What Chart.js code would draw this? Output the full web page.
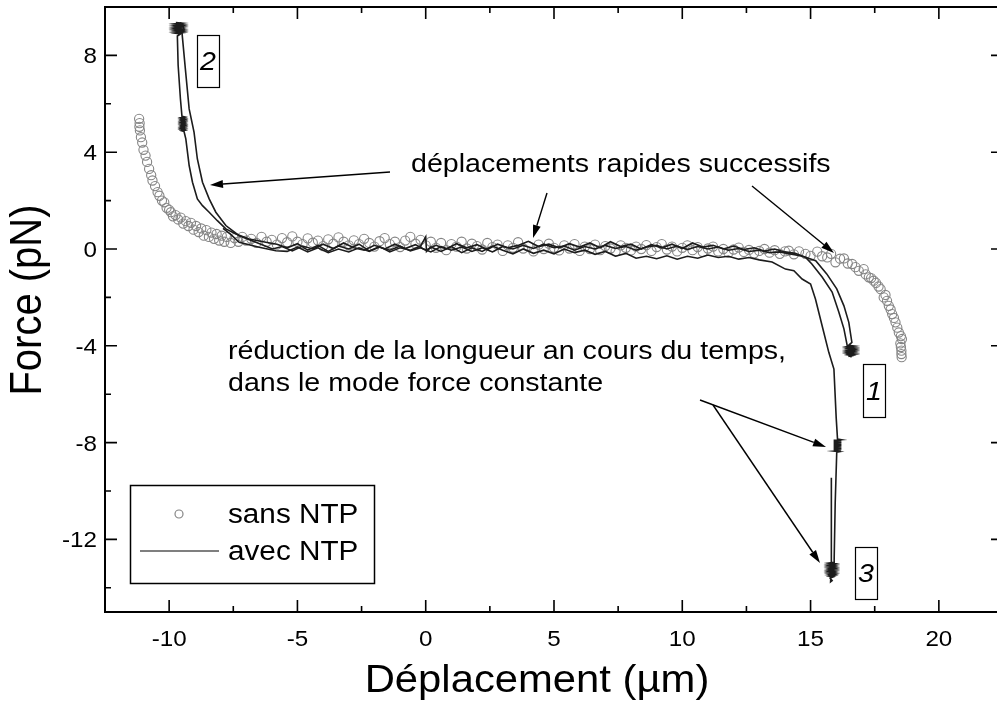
<!DOCTYPE html>
<html>
<head>
<meta charset="utf-8">
<script src="https://cdn.jsdelivr.net/npm/chart.js@4.4.1/dist/chart.umd.min.js"></script>
<style>
  html, body { margin: 0; padding: 0; background: #fff; overflow: hidden; }
  #wrap { width: 1010px; height: 702px; }
</style>
</head>
<body>
<div id="wrap"><canvas id="forceChart" width="1010" height="702"></canvas></div>
<script>
// axes
const xMin = -12.5, xMax = 22.5;
const yMin = -15, yMax = 10;
const xTickLabels = [-10, -5, 0, 5, 10, 15, 20];
const yTickLabels = [8, 4, 0, -4, -8, -12];

// sans NTP (circles)
const sansNTP = [
  [-11.17,5.38],[-11.15,5.2],[-11.16,5.05],[-11.14,4.9],[-11.1,4.62],[-11.05,4.4],[-11.0,4.1],[-10.92,3.86],
  [-10.86,3.6],[-10.78,3.31],[-10.7,3.05],[-10.65,2.83],[-10.55,2.6],[-10.45,2.35],[-10.38,2.2],[-10.28,2.0],
  [-10.19,1.93],[-10.1,1.7],[-10.0,1.62],[-9.93,1.52],[-9.85,1.35],[-9.75,1.4],[-9.65,1.22],[-9.55,1.3],
  [-9.45,1.05],[-9.35,1.15],[-9.25,0.95],[-9.15,1.08],[-9.05,0.8],[-8.95,0.95],[-8.85,0.7],[-8.75,0.85],
  [-8.65,0.55],[-8.55,0.78],[-8.45,0.5],[-8.35,0.68],[-8.25,0.42],[-8.15,0.62],[-8.05,0.35],[-7.95,0.55],
  [-7.85,0.3],[-7.75,0.5],[-7.6,0.25],[-7.45,0.45],[-7.3,0.3],[-7.15,0.5],[-7.0,0.35],
  [-6.8,0.42],[-6.6,0.25],[-6.4,0.5],[-6.2,0.3],[-6.0,0.38],[-5.8,0.18],[-5.6,0.45],[-5.4,0.28],[-5.2,0.52],
  [-5.0,0.3],[-4.8,0.2],[-4.6,0.44],[-4.4,0.26],[-4.2,0.35],[-4.0,0.12],[-3.8,0.4],[-3.6,0.22],[-3.4,0.48],
  [-3.2,0.3],[-3.0,0.15],[-2.8,0.36],[-2.6,0.2],[-2.4,0.42],[-2.2,0.25],[-2.0,0.1],[-1.8,0.32],[-1.6,0.45],
  [-1.4,0.2],[-1.2,0.3],[-1.0,0.08],[-0.8,0.35],[-0.6,0.5],[-0.4,0.22],[-0.2,0.38],[0.0,0.15],[0.2,0.3],
  [0.4,0.05],[0.6,0.25],[0.8,-0.05],[1.0,0.2],[1.2,0.1],[1.4,0.3],[1.6,0.02],[1.8,0.22],[2.0,0.12],[2.2,-0.02],
  [2.4,0.25],[2.6,0.08],[2.8,0.18],[3.0,-0.08],[3.2,0.15],[3.4,0.05],[3.6,0.28],[3.8,0.02],[4.0,0.12],[4.2,-0.1],
  [4.4,0.18],[4.6,0.0],[4.8,0.22],[5.0,0.05],[5.2,-0.06],[5.4,0.15],[5.6,0.02],[5.8,0.2],[6.0,-0.08],[6.2,0.1],
  [6.4,0.0],[6.6,0.18],[6.8,-0.05],[7.0,0.12],[7.2,0.02],[7.4,-0.1],[7.6,0.15],[7.8,0.05],[8.0,-0.06],[8.2,0.1],
  [8.4,0.0],[8.6,0.16],[8.8,-0.08],[9.0,0.08],[9.2,0.2],[9.4,-0.02],[9.6,0.1],[9.8,-0.1],[10.0,0.05],[10.2,0.15],
  [10.4,-0.05],[10.6,0.08],[10.8,-0.12],[11.0,0.02],[11.2,0.1],[11.4,-0.1],[11.6,0.0],[11.8,-0.15],[12.0,-0.02],
  [12.2,0.06],[12.4,-0.12],[12.6,-0.04],[12.8,-0.18],[13.0,-0.08],[13.2,0.0],[13.4,-0.15],[13.6,-0.05],[13.8,-0.2],
  [14.0,-0.1],[14.15,-0.07],[14.35,-0.22],[14.55,-0.1],[14.8,-0.2],[15.0,-0.28],[15.26,-0.11],[15.45,-0.3],
  [15.65,-0.35],[15.8,-0.2],[15.97,-0.55],[16.15,-0.4],[16.3,-0.39],[16.45,-0.6],[16.62,-0.62],[16.75,-0.75],
  [16.88,-0.9],[17.07,-0.83],[17.15,-1.05],[17.27,-1.17],[17.36,-1.2],[17.46,-1.31],[17.55,-1.4],[17.65,-1.55],
  [17.73,-1.66],[17.85,-2.0],[17.92,-1.9],[17.98,-2.14],[18.05,-2.35],[18.12,-2.5],[18.18,-2.69],[18.25,-2.85],
  [18.31,-3.03],[18.38,-3.25],[18.44,-3.45],[18.52,-3.6],[18.56,-3.72],[18.5,-3.9],[18.52,-4.05],[18.54,-4.2],
  [18.54,-4.34],[18.55,-4.47]
];

// avec NTP (lines), three traces; the dense zig-zags are the clamped plateaus
const avecA = [
  [-9.74,9.36],[-9.52,9.335],[-9.74,9.31],[-9.52,9.285],[-9.74,9.26],[-9.52,9.235],[-9.74,9.21],[-9.52,9.185],
  [-9.74,9.16],[-9.52,9.135],[-9.74,9.11],[-9.52,9.085],[-9.74,9.06],[-9.52,9.035],[-9.74,9.01],[-9.52,8.985],
  [-9.74,8.96],[-9.52,8.935],[-9.72,8.91],[-9.56,8.885],[-9.68,8.8],
  [-9.65,7.6],[-9.56,6.2],[-9.5,5.48],[-9.4,5.455],[-9.52,5.43],[-9.4,5.405],[-9.52,5.38],[-9.4,5.355],[-9.52,5.33],
  [-9.4,5.305],[-9.52,5.28],[-9.4,5.255],[-9.52,5.23],[-9.4,5.205],[-9.52,5.18],[-9.4,5.155],[-9.52,5.13],
  [-9.4,5.105],[-9.52,5.08],[-9.4,5.055],[-9.52,5.03],[-9.4,5.005],[-9.52,4.98],[-9.4,4.955],[-9.52,4.93],
  [-9.4,4.905],[-9.5,4.88],[-9.42,4.855],
  [-9.35,4.55],[-9.22,3.45],[-9.09,2.76],[-8.9,2.07],[-8.7,1.79],[-8.44,1.52],[-8.12,1.17],[-7.79,0.83],[-7.4,0.62],
  [-6.88,0.41],[-6.23,0.28],[-5.8,0.2],[-5.4,0.05],[-5.0,0.22],[-4.6,-0.05],[-4.2,0.15],[-3.8,-0.1],[-3.4,0.12],
  [-3.0,0.0],[-2.6,0.2],[-2.2,-0.08],[-1.8,0.1],[-1.4,-0.12],[-1.0,0.05],[-0.6,-0.05],[-0.2,0.12],[0.0,0.5],
  [0.03,-0.1],[0.2,0.08],[0.6,-0.1],[1.0,0.1],[1.4,-0.15],[1.8,0.05],[2.2,-0.1],[2.6,0.12],[3.0,-0.05],[3.4,-0.2],
  [3.8,0.0],[4.2,-0.18],[4.6,-0.05],[5.0,-0.2],[5.4,0.0],[5.8,-0.15],[6.2,-0.05],[6.6,-0.22],[7.0,-0.1],[7.4,-0.3],
  [7.8,-0.18],[8.2,-0.38],[8.6,-0.3],[9.0,-0.4],[9.4,-0.28],[9.8,-0.42],[10.2,-0.3],[10.6,-0.38],[11.0,-0.25],
  [11.4,-0.35],[11.8,-0.3],[12.2,-0.42],[12.6,-0.35],[13.0,-0.45],[13.5,-0.54],[14.02,-0.83],[14.35,-0.9],
  [14.67,-1.24],[15.0,-1.45],[15.19,-2.07],[15.45,-3.17],[15.71,-4.27],[15.91,-4.96],[16.0,-7.0],[16.05,-7.85],
  [16.2,-7.88],[15.9,-7.905],[16.2,-7.93],[15.9,-7.955],[16.2,-7.98],[15.9,-8.005],[16.2,-8.03],[15.9,-8.055],
  [16.2,-8.08],[15.9,-8.105],[16.2,-8.13],[15.9,-8.155],[16.2,-8.18],[15.9,-8.205],[16.2,-8.23],[15.9,-8.255],
  [16.2,-8.28],[15.9,-8.305],[16.18,-8.33],[15.92,-8.355],[16.12,-8.38],[16.02,-8.4],
  [15.96,-10.5],[15.92,-12.8],
  [15.92,-12.95],[15.74,-12.975],[15.92,-13.0],[15.74,-13.025],[15.92,-13.05],[15.74,-13.075],[15.92,-13.1],
  [15.74,-13.125],[15.92,-13.15],[15.74,-13.175],[15.92,-13.2],[15.74,-13.225],[15.92,-13.25],[15.74,-13.275],
  [15.92,-13.3],[15.74,-13.325],[15.92,-13.35],[15.74,-13.375],[15.92,-13.4],[15.74,-13.425],[15.9,-13.45],
  [15.74,-13.475],[15.9,-13.5],[15.76,-13.525],[15.88,-13.55],[15.76,-13.6],[15.84,-13.7],[15.78,-13.75],
  [15.8,-13.2],[15.8,-11.5],[15.82,-9.45]
];
const avecB = [
  [-9.48,9.3],[-9.42,9.05],[-9.5,8.95],[-9.38,7.58],[-9.22,5.79],[-9.03,4.83],[-8.9,3.72],[-8.7,2.76],[-8.44,2.07],
  [-8.18,1.52],[-7.79,0.97],[-7.27,0.55],[-6.62,0.28],[-5.97,0.0],[-5.6,0.1],[-5.2,-0.08],[-4.8,0.12],[-4.4,0.0],
  [-4.0,0.2],[-3.6,0.02],[-3.2,0.25],[-2.8,0.05],[-2.4,-0.05],[-2.0,0.15],[-1.6,0.0],[-1.2,0.2],[-0.8,0.02],
  [-0.4,0.18],[0.0,-0.05],[0.4,0.15],[0.8,0.0],[1.2,0.22],[1.6,0.05],[2.0,0.18],[2.4,-0.02],[2.8,0.2],[3.2,0.05],
  [3.6,0.15],[4.0,0.32],[4.4,0.1],[4.8,0.2],[5.2,0.05],[5.6,0.22],[6.0,0.08],[6.4,0.25],[6.8,0.05],[7.2,0.3],
  [7.6,0.1],[8.0,0.2],[8.4,0.0],[8.8,0.18],[9.2,0.05],[9.6,0.2],[10.0,0.02],[10.4,0.25],[10.8,0.08],[11.2,0.15],
  [11.6,0.0],[12.0,0.12],[12.4,-0.02],[12.8,0.05],[13.2,-0.08],[13.6,0.0],[14.0,-0.12],[14.4,-0.18],[14.8,-0.34],
  [15.2,-0.48],[15.63,-1.03],[16.02,-1.65],[16.3,-2.35],[16.49,-3.03],[16.61,-3.86],
  [16.48,-3.98],[16.68,-4.005],[16.48,-4.03],[16.68,-4.055],[16.48,-4.08],[16.68,-4.105],[16.48,-4.13],
  [16.68,-4.155],[16.48,-4.18],[16.68,-4.205],[16.48,-4.23],[16.68,-4.255],[16.48,-4.28],[16.68,-4.305],
  [16.48,-4.33],[16.68,-4.355],[16.5,-4.38],[16.64,-4.405],[16.54,-4.43],[16.6,-4.46]
];
const avecC = [
  [-7.9,0.85],[-7.6,0.6],[-7.27,0.28],[-6.49,0.07],[-5.84,-0.07],[-5.4,-0.1],[-5.0,0.08],[-4.6,-0.12],[-4.2,0.05],
  [-3.8,-0.15],[-3.4,0.0],[-3.0,-0.12],[-2.6,0.05],[-2.2,-0.1],[-1.8,0.08],[-1.4,-0.05],[-1.0,0.12],[-0.6,-0.08],
  [-0.2,0.05],[0.2,-0.12],[0.6,0.1],[1.0,-0.05],[1.4,0.08],[1.8,-0.1],[2.2,0.05],[2.6,-0.12],[3.0,0.1],[3.4,0.0],
  [3.8,0.15],[4.2,0.02],[4.6,0.2],[5.0,0.05],[5.4,0.12],[5.8,-0.05],[6.2,0.1],[6.6,0.0],[7.0,0.15],[7.4,0.02],
  [7.8,0.1],[8.2,-0.05],[8.6,0.08],[9.0,0.15],[9.4,0.0],[9.8,0.12],[10.2,-0.02],[10.6,0.1],[11.0,0.0],[11.4,0.08],
  [11.8,-0.05],[12.2,0.02],[12.6,-0.1],[13.0,-0.05],[13.4,-0.15],[13.8,-0.12],[14.2,-0.2],[14.6,-0.28],[14.8,-0.34],
  [15.05,-0.62],[15.45,-1.16],[15.84,-1.78],[16.1,-2.6],[16.3,-3.3],[16.43,-4.0],
  [16.58,-4.04],[16.42,-4.1],[16.6,-4.16],[16.42,-4.22],[16.6,-4.28],[16.44,-4.34],[16.58,-4.4],[16.48,-4.44]
];

const FONT = '"Liberation Sans", Arial, sans-serif';
const STRETCH = 1.1;
const LINE_COLOR = "#1c1c1c";
const CIRCLE_COLOR = "#858585";

function toPts(arr) {
  return arr.map(function (p) { return { x: p[0], y: p[1] }; });
}

function drawText(ctx, s, x, y, size, align, opts) {
  opts = opts || {};
  ctx.save();
  ctx.translate(x, y);
  if (opts.rot) {
    ctx.rotate(opts.rot);
    ctx.scale(1, STRETCH);
  } else {
    ctx.scale(STRETCH, 1);
  }
  ctx.font = (opts.italic ? "italic " : "") + size + "px " + FONT;
  ctx.fillStyle = "#000";
  ctx.textAlign = align;
  ctx.textBaseline = "alphabetic";
  ctx.fillText(s, 0, 0);
  ctx.restore();
}

function arrow(ctx, x1, y1, x2, y2) {
  const a = Math.atan2(y2 - y1, x2 - x1);
  const len = 13, hw = 4;
  ctx.save();
  ctx.strokeStyle = "#000";
  ctx.fillStyle = "#000";
  ctx.lineWidth = 1.4;
  ctx.beginPath();
  ctx.moveTo(x1, y1);
  ctx.lineTo(x2 - len * Math.cos(a), y2 - len * Math.sin(a));
  ctx.stroke();
  ctx.beginPath();
  ctx.moveTo(x2, y2);
  ctx.lineTo(x2 - len * Math.cos(a) + hw * Math.sin(a), y2 - len * Math.sin(a) - hw * Math.cos(a));
  ctx.lineTo(x2 - len * Math.cos(a) - hw * Math.sin(a), y2 - len * Math.sin(a) + hw * Math.cos(a));
  ctx.closePath();
  ctx.fill();
  ctx.restore();
}

function numBox(ctx, s, x, y, w, h) {
  ctx.save();
  ctx.strokeStyle = "#000";
  ctx.lineWidth = 1.2;
  ctx.strokeRect(x + 0.5, y + 0.5, w, h);
  ctx.restore();
  drawText(ctx, s, x + w / 2, y + h / 2 + 9, 26, "center", { italic: true });
}

const framePlugin = {
  id: "frame",
  afterDraw(chart) {
    const ctx = chart.ctx;
    const a = chart.chartArea;
    const xs = chart.scales.x, ys = chart.scales.y;

    // frame, as filled bars so every side shows
    ctx.save();
    ctx.fillStyle = "#000";
    const w = a.right - a.left, h = a.bottom - a.top;
    ctx.fillRect(a.left - 1, a.top - 1, w + 2, 2);
    ctx.fillRect(a.left - 1, a.bottom - 1, w + 2, 2);
    ctx.fillRect(a.left - 1, a.top - 1, 2, h + 2);
    ctx.fillRect(a.right - 1, a.top - 1, 2, h + 2);

    // inward ticks on all four sides
    ctx.strokeStyle = "#000";
    ctx.lineWidth = 1.6;
    ctx.beginPath();
    for (let i = 0; i <= (xMax - xMin) / 2.5; i++) {
      const v = xMin + i * 2.5;
      const major = Math.abs(v / 5 - Math.round(v / 5)) < 1e-6;
      const L = major ? 12 : 6;
      const px = xs.getPixelForValue(v);
      ctx.moveTo(px, a.bottom); ctx.lineTo(px, a.bottom - L);
      ctx.moveTo(px, a.top); ctx.lineTo(px, a.top + L);
    }
    for (let i = 0; i <= (yMax - yMin) / 2; i++) {
      const v = yMax - i * 2;
      if (v < yMin) break;
      const major = Math.abs(v / 4 - Math.round(v / 4)) < 1e-6;
      const L = major ? 12 : 6;
      const py = ys.getPixelForValue(v);
      ctx.moveTo(a.left, py); ctx.lineTo(a.left + L, py);
      ctx.moveTo(a.right, py); ctx.lineTo(a.right - L, py);
    }
    ctx.stroke();
    ctx.restore();

    // tick labels
    xTickLabels.forEach(function (v) {
      drawText(ctx, String(v), xs.getPixelForValue(v), a.bottom + 34, 22, "center");
    });
    yTickLabels.forEach(function (v) {
      drawText(ctx, String(v), a.left - 8, ys.getPixelForValue(v) + 8, 22, "right");
    });

    // axis titles
    drawText(ctx, "Déplacement (µm)", 537, 692, 38, "center");
    drawText(ctx, "Force (pN)", 41, 300, 40, "center", { rot: -Math.PI / 2 });

    // legend
    ctx.save();
    ctx.strokeStyle = "#000";
    ctx.lineWidth = 1.5;
    ctx.strokeRect(130.5, 485.5, 244, 98);
    ctx.strokeStyle = CIRCLE_COLOR;
    ctx.lineWidth = 1.2;
    ctx.beginPath();
    ctx.arc(179, 514, 4, 0, Math.PI * 2);
    ctx.stroke();
    ctx.strokeStyle = "#555";
    ctx.lineWidth = 1.4;
    ctx.beginPath();
    ctx.moveTo(140, 551); ctx.lineTo(219, 551);
    ctx.stroke();
    ctx.restore();
    drawText(ctx, "sans NTP", 228, 523, 27, "left");
    drawText(ctx, "avec NTP", 228, 560, 27, "left");

    // annotations
    drawText(ctx, "déplacements rapides successifs", 411, 172, 26, "left");
    arrow(ctx, 390, 172, 210, 185);
    arrow(ctx, 547, 193, 533, 238);
    arrow(ctx, 752, 186, 834, 253);
    drawText(ctx, "réduction de la longueur an cours du temps,", 228, 359, 26, "left");
    drawText(ctx, "dans le mode force constante", 228, 391, 26, "left");
    arrow(ctx, 700, 400, 826, 447);
    arrow(ctx, 713, 405, 820, 563);

    numBox(ctx, "2", 197, 35, 22, 52);
    numBox(ctx, "1", 863, 364, 22, 53);
    numBox(ctx, "3", 855, 547, 22, 52);
  }
};

const lineStyle = {
  showLine: true,
  borderColor: LINE_COLOR,
  borderWidth: 1.6,
  pointRadius: 0,
  tension: 0,
  order: 1,
};

new Chart(document.getElementById("forceChart").getContext("2d"), {
  type: "scatter",
  data: {
    datasets: [
      Object.assign({ label: "avec NTP", data: toPts(avecA) }, lineStyle),
      Object.assign({ label: "avec NTP b", data: toPts(avecB) }, lineStyle),
      Object.assign({ label: "avec NTP c", data: toPts(avecC) }, lineStyle),
      {
        label: "sans NTP",
        data: toPts(sansNTP),
        showLine: false,
        pointStyle: "circle",
        pointRadius: 4.6,
        pointBorderWidth: 1.1,
        pointBorderColor: CIRCLE_COLOR,
        pointBackgroundColor: "rgba(255,255,255,0)",
        order: 2,
      },
    ],
  },
  options: {
    responsive: false,
    animation: false,
    layout: { padding: { top: 7, right: 7, left: 0, bottom: 0 } },
    plugins: { legend: { display: false }, tooltip: { enabled: false } },
    scales: {
      x: {
        type: "linear",
        min: xMin,
        max: xMax,
        ticks: { display: false },
        grid: { display: false, drawTicks: false },
        border: { display: false },
        afterFit(scale) { scale.height = 90; },
      },
      y: {
        type: "linear",
        min: yMin,
        max: yMax,
        ticks: { display: false },
        grid: { display: false, drawTicks: false },
        border: { display: false },
        afterFit(scale) { scale.width = 105; },
      },
    },
  },
  plugins: [framePlugin],
});
</script>
</body>
</html>
